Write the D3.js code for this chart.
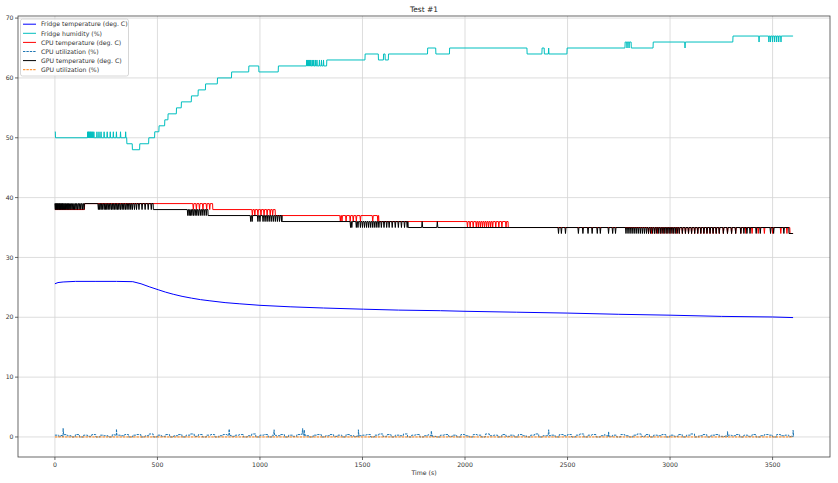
<!DOCTYPE html>
<html><head><meta charset="utf-8">
<script src="https://cdn.jsdelivr.net/npm/d3@7"></script>
<style>body{margin:0;background:#fff;} text{font-family:"DejaVu Sans",sans-serif;}</style>
</head><body>
<svg id="c" width="838" height="483"></svg>
<script>
// ---------------- DATA ----------------
const title = "Test #1";
const xLabel = "Time (s)";
const xTicks = [0, 500, 1000, 1500, 2000, 2500, 3000, 3500];
const yTicks = [0, 10, 20, 30, 40, 50, 60, 70];
const seriesNames = ["Fridge temperature (deg. C)", "Fridge humidity (%)", "CPU temperature (deg. C)",
  "CPU utilization (%)", "GPU temperature (deg. C)", "GPU utilization (%)"];

// Fridge temperature (smooth) [time, value]
const fridgeTemp = [[0,25.6],[15,25.8],[40,25.9],[100,26.0],[200,26.0],[300,26.0],[380,25.95],[420,25.6],
  [460,25.1],[504,24.6],[540,24.2],[577,23.85],[620,23.5],[666,23.2],[710,22.95],[756,22.75],[830,22.45],
  [902,22.25],[1000,22.0],[1147,21.75],[1310,21.55],[1505,21.35],[1676,21.2],[1880,21.1],[2000,21.0],
  [2250,20.85],[2500,20.7],[2750,20.5],[3000,20.35],[3250,20.15],[3500,20.05],[3600,19.95]];

// Fridge humidity: step levels [time, value] and one-sample excursions [time, value]
const humSteps = [[0,51],[3,50],[351,49],[378,48],[414,49],[458,50],[487,51],[508,52],[536,53],[552,54],
  [593,55],[617,56],[666,57],[699,58],[735,59],[793,60],[862,61],[946,62],[995,61],[1090,62],[1326,63],
  [1513,64],[1578,63],[1603,64],[1611,63],[1627,64],[1818,65],[1858,64],[1925,65],[2303,64],[2376,65],
  [2387,64],[2498,65],[2781,66],[2811,65],[2918,66],[3307,67],[3600,67]];
const humBlips = [[160,51],[163,51],[166,51],[170,51],[173,51],[177,51],[181,51],[185,51],[190,51],[205,51],
  [215,51],[225,51],[240,51],[255,51],[270,51],[285,51],[300,51],[320,51],[345,51],
  [1228,63],[1233,63],[1238,63],[1243,63],[1248,63],[1255,63],[1262,63],[1270,63],[1278,63],[1290,63],
  [1300,63],[1310,63],[2408,65],[2790,65],[2800,65],[3073,65],[3434,66],[3482,66],[3490,66],[3500,66],
  [3510,66],[3520,66],[3530,66],[3541,66]];

// CPU temperature
const cpuSteps = [[0,38],[145,39],[770,38],[1075,37],[1580,36],[2211,35],[3585,34],[3600,34]];
const cpuBlips = [[675,38],[690,38],[705,38],[722,38],[740,38],[755,38],
  [963,37],[975,37],[990,37],[1005,37],[1020,37],[1035,37],[1050,37],[1062,37],
  [1392,36],[1400,36],[1420,36],[1440,36],[1455,36],[1470,36],[1490,36],[1550,36],[1575,36],
  [2012,35],[2025,35],[2040,35],[2055,35],[2065,35],[2075,35],[2085,35],[2095,35],[2105,35],[2115,35],
  [2125,35],[2135,35],[2150,35],[2165,35],[2180,35],[2200,35],
  [2895,34],[2910,34],[2925,34],[2940,34],[2955,34],[2970,34],[2985,34],[3000,34],[3015,34],[3030,34],
  [3045,34],[3060,34],[3075,34],[3090,34],[3105,34],[3120,34],[3135,34],[3150,34],[3165,34],[3180,34],
  [3195,34],[3210,34],[3225,34],[3240,34],[3260,34],[3280,34],[3300,34],[3320,34],[3345,34],[3370,34],
  [3400,34],[3430,34],[3460,34],[3500,34],[3540,34],[3570,34]];

// GPU temperature
const gpuSteps = [[0,39],[480,38],[747,37],[1108,36],[1723,35],[3580,34],[3600,34]];
const gpuBlips = [[2,38],[5,38],[9,38],[12,38],[16,38],[20,38],[23,38],[27,38],[31,38],[35,38],[38,38],
  [42,38],[47,38],[51,38],[55,38],[60,38],[64,38],[68,38],[73,38],[78,38],[84,38],[90,38],[96,38],[103,38],
  [110,38],[118,38],[126,38],[134,38],[142,38],
  [212,38],[218,38],[225,38],[231,38],[240,38],[246,38],[253,38],[260,38],[268,38],[276,38],[283,38],
  [290,38],[298,38],[305,38],[312,38],[320,38],[328,38],[336,38],[344,38],[352,38],[361,38],[370,38],
  [378,38],[388,38],[398,38],[410,38],[425,38],[440,38],[455,38],[470,38],
  [648,37],[655,37],[661,37],[668,37],[676,37],[684,37],[692,37],[700,37],[709,37],[718,37],[728,37],[738,37],
  [955,36],[962,36],[990,36],[1000,36],[1015,36],[1025,36],[1035,36],[1045,36],[1055,36],[1065,36],
  [1075,36],[1085,36],[1095,36],[1105,36],
  [1442,35],[1448,35],[1470,35],[1478,35],[1490,35],[1500,35],[1510,35],[1520,35],[1530,35],[1540,35],
  [1550,35],[1560,35],[1570,35],[1580,35],[1592,35],[1605,35],[1618,35],[1630,35],[1645,35],[1660,35],
  [1675,35],[1690,35],[1705,35],[1718,35],
  [1791,36],[1865,36],
  [2456,34],[2470,34],[2490,34],[2553,34],[2575,34],[2600,34],[2620,34],[2645,34],[2660,34],
  [2700,34],[2720,34],[2734,34],
  [2785,34],[2795,34],[2805,34],[2815,34],[2825,34],[2835,34],[2845,34],[2855,34],[2865,34],[2875,34],
  [2885,34],[2895,34],[2905,34],[2915,34],[2925,34],[2935,34],[2945,34],[2955,34],[2965,34],[2975,34],
  [2985,34],[2995,34],[3005,34],[3015,34],[3025,34],[3035,34],[3045,34],[3060,34],[3075,34],[3090,34],
  [3105,34],[3120,34],[3135,34],[3150,34],[3165,34],[3180,34],[3195,34],[3210,34],[3225,34],[3240,34],
  [3260,34],[3280,34],[3300,34],[3320,34],[3345,34],[3360,34],[3375,34],[3390,34],[3420,34],[3440,34],
  [3490,34],[3505,34],[3555,34]];

// CPU utilization: low-level readings every 20 s, plus short peaks [time, value]
const cpuUtilStep = 20;
const cpuUtil = [0.3,0,0.4,0.2,0,0.4,0,0.3,0.1,0.4,
  0,0.3,0.2,0,0.4,0.3,0.2,0.4,0,0.3,
  0.4,0,0.2,0.5,0,0.3,0.1,0.4,0,0.2,
  0.4,0,0.3,0.5,0.1,0.4,0,0.3,0.4,0,
  0.2,0.4,0.3,0.1,0.3,0.4,0,0.2,0.5,0,
  0.3,0.4,0,0.3,0.2,0.4,0,0.3,0.1,0.4,
  0.5,0.2,0,0.3,0.4,0,0.2,0.4,0.1,0.3,
  0,0.4,0.2,0,0.2,0.3,0.4,0,0.3,0.5,
  0.1,0.4,0,0.3,0.2,0.5,0,0.3,0.4,0,
  0.2,0.4,0.1,0,0.3,0.4,0.1,0.3,0,0.4,
  0.2,0,0.4,0.3,0,0.5,0.2,0.3,0,0.4,
  0.1,0.3,0,0.4,0.2,0,0.3,0.5,0,0.2,
  0.2,0.3,0,0.4,0.2,0.4,0,0.3,0.5,0,
  0.3,0.4,0,0.2,0.4,0.1,0.3,0,0.4,0.2,
  0,0.3,0.5,0.1,0.4,0,0.3,0.2,0.4,0,
  0.3,0.1,0.4,0,0.3,0.5,0,0.2,0.4,0,
  0.3,0.4,0.1,0,0.3,0.2,0.4,0,0.3,0.1,
  0.4,0,0.2,0.4,0.3,0,0.4,0.2,0.3,0,
  0.2];
const cpuUtilPeaks = [[40,1.45],[300,1.3],[850,1.3],[1069,1.2],[1208,1.4],[1216,1.2],[1480,1.2],
  [1836,1.0],[2408,1.2],[2700,0.9],[3280,0.9],[3600,1.1]];
// GPU utilization (flat)
const gpuUtil = [[0,0],[3600,0]];

// ---------------- CHART ----------------
const svg = d3.select("#c");
const L = 18, R = 830, T = 16, B = 457;
const x = d3.scaleLinear().domain([-180, 3780]).range([L, R]);
const y = d3.scaleLinear().domain([-3.35, 70.35]).range([B, T]);

svg.append("rect").attr("width", 838).attr("height", 483).attr("fill", "#fff");

// grid
const g = svg.append("g");
g.selectAll(".gx").data(xTicks).enter().append("line")
  .attr("x1", d => x(d)).attr("x2", d => x(d)).attr("y1", T).attr("y2", B)
  .attr("stroke", "#d4d4d4").attr("stroke-width", 0.8);
g.selectAll(".gy").data(yTicks).enter().append("line")
  .attr("y1", d => y(d)).attr("y2", d => y(d)).attr("x1", L).attr("x2", R)
  .attr("stroke", "#d4d4d4").attr("stroke-width", 0.8);

// build sampled-looking series: level steps + short excursions, connected linearly
function buildSeries(steps, blips, w, baseOf) {
  const base = baseOf || (t => { let v = steps[0][1]; for (const s of steps) { if (s[0] <= t) v = s[1]; else break; } return v; });
  const pts = [];
  steps.forEach((s, i) => {
    if (i > 0) pts.push([s[0] - 1, steps[i - 1][1], 0]);
    pts.push([s[0], s[1], 1]);
  });
  for (const b of blips) {
    pts.push([b[0] - w, base(b[0] - w), 0]);
    pts.push([b[0], b[1], 1]);
    pts.push([b[0] + w, base(b[0] + w), 2]);
  }
  pts.sort((a, b) => a[0] - b[0] || a[2] - b[2]);
  return pts;
}
const lineLin = d3.line().x(d => x(d[0])).y(d => y(d[1]));

svg.append("clipPath").attr("id", "clp").append("rect")
  .attr("x", L).attr("y", T).attr("width", R - L).attr("height", B - T);
const plot = svg.append("g").attr("clip-path", "url(#clp)");

plot.append("path").datum(fridgeTemp).attr("d", lineLin).attr("fill", "none")
  .attr("stroke", "#0000ff").attr("stroke-width", 1);
plot.append("path").datum(buildSeries(humSteps, humBlips, 1.5)).attr("d", lineLin).attr("fill", "none")
  .attr("stroke", "#00bfbf").attr("stroke-width", 1);
plot.append("path").datum(buildSeries(cpuSteps, cpuBlips, 2.5)).attr("d", lineLin).attr("fill", "none")
  .attr("stroke", "#ff0000").attr("stroke-width", 1);
const cpuUtilPts = cpuUtil.map((v, i) => [i * cpuUtilStep, v]);
const utilBase = t => { const i = Math.max(0, Math.min(cpuUtil.length - 2, Math.floor(t / cpuUtilStep)));
  const f = Math.max(0, Math.min(1, (t - i * cpuUtilStep) / cpuUtilStep)); return cpuUtil[i] * (1 - f) + cpuUtil[i + 1] * f; };
plot.append("path").datum(buildSeries(cpuUtilPts, cpuUtilPeaks, 2.5, utilBase)
    .filter(p => true)).attr("d", lineLin).attr("fill", "none")
  .attr("stroke", "#1f77b4").attr("stroke-width", 1).attr("stroke-dasharray", "2.4,1");
plot.append("path").datum(buildSeries(gpuSteps, gpuBlips, 2.5)).attr("d", lineLin).attr("fill", "none")
  .attr("stroke", "#000").attr("stroke-width", 1);
plot.append("path").datum(gpuUtil).attr("d", lineLin).attr("fill", "none")
  .attr("stroke", "#ff7f0e").attr("stroke-width", 1).attr("stroke-dasharray", "2.4,1");

// frame
svg.append("rect").attr("x", L).attr("y", T).attr("width", R - L).attr("height", B - T)
  .attr("fill", "none").attr("stroke", "#444").attr("stroke-width", 0.8);

// ticks
const axCol = "#333";
svg.selectAll(".tx").data(xTicks).enter().append("line")
  .attr("x1", d => x(d)).attr("x2", d => x(d)).attr("y1", B).attr("y2", B + 3)
  .attr("stroke", "#444").attr("stroke-width", 0.8);
svg.selectAll(".tlx").data(xTicks).enter().append("text")
  .attr("x", d => x(d)).attr("y", 466.5).attr("text-anchor", "middle")
  .attr("font-size", 6.2).attr("fill", axCol).text(d => d);
svg.selectAll(".ty").data(yTicks).enter().append("line")
  .attr("y1", d => y(d)).attr("y2", d => y(d)).attr("x1", L - 3).attr("x2", L)
  .attr("stroke", "#444").attr("stroke-width", 0.8);
svg.selectAll(".tly").data(yTicks).enter().append("text")
  .attr("x", L - 4.5).attr("y", d => y(d) + 2.2).attr("text-anchor", "end")
  .attr("font-size", 6.2).attr("fill", axCol).text(d => d);

svg.append("text").attr("x", (L + R) / 2).attr("y", 475).attr("text-anchor", "middle")
  .attr("font-size", 6.2).attr("fill", axCol).text(xLabel);
svg.append("text").attr("x", (L + R) / 2).attr("y", 11.5).attr("text-anchor", "middle")
  .attr("font-size", 7.5).attr("fill", "#222").text(title);

// legend
const legColors = ["#0000ff", "#00bfbf", "#ff0000", "#1f77b4", "#000", "#ff7f0e"];
const legDash = [null, null, null, "2.4,1", null, "2.4,1"];
const lg = svg.append("g");
lg.append("rect").attr("x", 20.5).attr("y", 19).attr("width", 108).attr("height", 57).attr("rx", 2)
  .attr("fill", "#fff").attr("fill-opacity", 0.8).attr("stroke", "#ccc").attr("stroke-width", 0.8);
seriesNames.forEach((n, i) => {
  const yy = 24.2 + i * 9.1;
  lg.append("line").attr("x1", 23).attr("x2", 36).attr("y1", yy).attr("y2", yy)
    .attr("stroke", legColors[i]).attr("stroke-width", 1).attr("stroke-dasharray", legDash[i]);
  lg.append("text").attr("x", 41).attr("y", yy + 2.2).attr("font-size", 6.2).attr("fill", axCol).text(n);
});
</script>
</body></html>
